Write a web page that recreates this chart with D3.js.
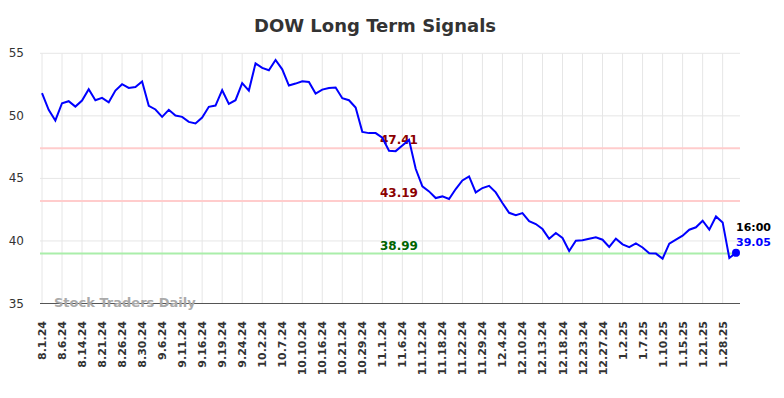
<!DOCTYPE html>
<html>
<head>
<meta charset="utf-8">
<script src="https://cdn.jsdelivr.net/npm/d3@7/dist/d3.min.js"></script>
<style>
  body { margin: 0; background: #fff; }
  svg { font-family: "DejaVu Sans", sans-serif; }
</style>
</head>
<body>
<div id="chart"></div>
<script>
const tickLabels = ['8.1.24','8.6.24','8.14.24','8.21.24','8.26.24','8.30.24','9.6.24','9.11.24','9.16.24',
  '9.19.24','9.24.24','10.2.24','10.7.24','10.10.24','10.16.24','10.21.24','10.29.24','11.1.24','11.6.24',
  '11.12.24','11.18.24','11.22.24','11.29.24','12.4.24','12.10.24','12.13.24','12.18.24','12.23.24',
  '12.27.24','1.2.25','1.7.25','1.10.25','1.15.25','1.21.25','1.28.25'];

const prices = [51.81,50.48,49.63,51.01,51.17,50.74,51.22,52.13,51.25,51.44,51.09,52.02,52.53,52.23,52.31,52.74,
  50.80,50.51,49.92,50.48,50.03,49.92,49.52,49.39,49.87,50.72,50.82,52.05,50.96,51.25,52.61,52.02,54.20,53.83,
  53.65,54.47,53.72,52.42,52.58,52.77,52.71,51.78,52.10,52.23,52.26,51.41,51.25,50.66,48.72,48.62,48.62,48.25,
  47.21,47.18,47.63,48.08,45.77,44.36,43.96,43.43,43.56,43.35,44.15,44.84,45.16,43.88,44.23,44.41,43.88,43.03,
  42.25,42.05,42.23,41.58,41.35,40.95,40.18,40.64,40.24,39.20,40.02,40.05,40.18,40.29,40.10,39.52,40.18,39.73,
  39.50,39.80,39.48,39.02,38.99,38.59,39.78,40.10,40.42,40.90,41.09,41.62,40.90,41.96,41.48,38.64,39.05];

const levels = [47.41, 43.19, 38.99];
const levelColors = ['#ffcccc', '#ffcccc', '#aaeeaa'];
const levelTextColors = ['#8b0000', '#8b0000', '#006400'];
const yTicks = [35, 40, 45, 50, 55];

const W = 784, H = 398;
const svg = d3.select('#chart').append('svg').attr('width', W).attr('height', H);

const x = d3.scaleLinear().domain([0, prices.length - 1]).range([42, 736]);
const y = d3.scaleLinear().domain([35, 55]).range([303.5, 53.3]);
const left = 40, right = 740;

svg.append('text')
  .text('DOW Long Term Signals')
  .attr('x', 375).attr('y', 32)
  .attr('text-anchor', 'middle')
  .attr('fill', '#333')
  .attr('style', 'font-size: 18px; font-weight: bold;');

// horizontal grid
svg.append('g').selectAll('line').data(yTicks).enter().append('line')
  .attr('x1', left).attr('x2', right)
  .attr('y1', d => y(d)).attr('y2', d => y(d))
  .attr('stroke', '#e6e6e6');

// vertical grid
const tickIdx = tickLabels.map((d, i) => i * 3);
svg.append('g').selectAll('line').data(tickIdx).enter().append('line')
  .attr('x1', d => x(d)).attr('x2', d => x(d))
  .attr('y1', y(55)).attr('y2', y(35))
  .attr('stroke', '#e6e6e6');

// y labels
svg.append('g').selectAll('text').data(yTicks).enter().append('text')
  .text(d => d)
  .attr('x', 24).attr('y', d => y(d) + 4)
  .attr('text-anchor', 'end')
  .attr('fill', '#333')
  .attr('style', 'font-size: 12px;');

// x labels
svg.append('g').selectAll('text').data(tickLabels).enter().append('text')
  .text(d => d)
  .attr('transform', (d, i) => 'translate(' + (x(i * 3) + 4) + ',' + 321 + ') rotate(-90)')
  .attr('text-anchor', 'end')
  .attr('fill', '#333')
  .attr('style', 'font-size: 11px; font-weight: bold;');

// support / resistance lines
levels.forEach((lv, i) => {
  svg.append('line')
    .attr('x1', left).attr('x2', right)
    .attr('y1', y(lv)).attr('y2', y(lv))
    .attr('stroke', levelColors[i]).attr('stroke-width', 2);
  svg.append('text')
    .text(lv.toFixed(2))
    .attr('x', 399).attr('y', y(lv) - 4)
    .attr('text-anchor', 'middle')
    .attr('fill', levelTextColors[i])
    .attr('style', 'font-size: 12px; font-weight: bold;');
});

// x axis line
svg.append('line')
  .attr('x1', left).attr('x2', right)
  .attr('y1', y(35)).attr('y2', y(35))
  .attr('stroke', '#555').attr('stroke-width', 1);

svg.append('text')
  .text('Stock Traders Daily')
  .attr('x', 54).attr('y', 307)
  .attr('fill', '#aaa')
  .attr('style', 'font-size: 13px; font-weight: bold;');

const line = d3.line().x((d, i) => x(i)).y(d => y(d));
svg.append('path')
  .datum(prices)
  .attr('d', line)
  .attr('fill', 'none')
  .attr('stroke', '#0000ff')
  .attr('stroke-width', 2);

const last = prices.length - 1;
svg.append('circle')
  .attr('cx', x(last)).attr('cy', y(prices[last]))
  .attr('r', 4).attr('fill', '#0000ff');

svg.append('text')
  .text('16:00')
  .attr('x', 736).attr('y', 231)
  .attr('fill', '#000')
  .attr('style', 'font-size: 11px; font-weight: bold;');
svg.append('text')
  .text(prices[last].toFixed(2))
  .attr('x', 736).attr('y', 246)
  .attr('fill', '#0000ff')
  .attr('style', 'font-size: 11px; font-weight: bold;');
</script>
</body>
</html>
